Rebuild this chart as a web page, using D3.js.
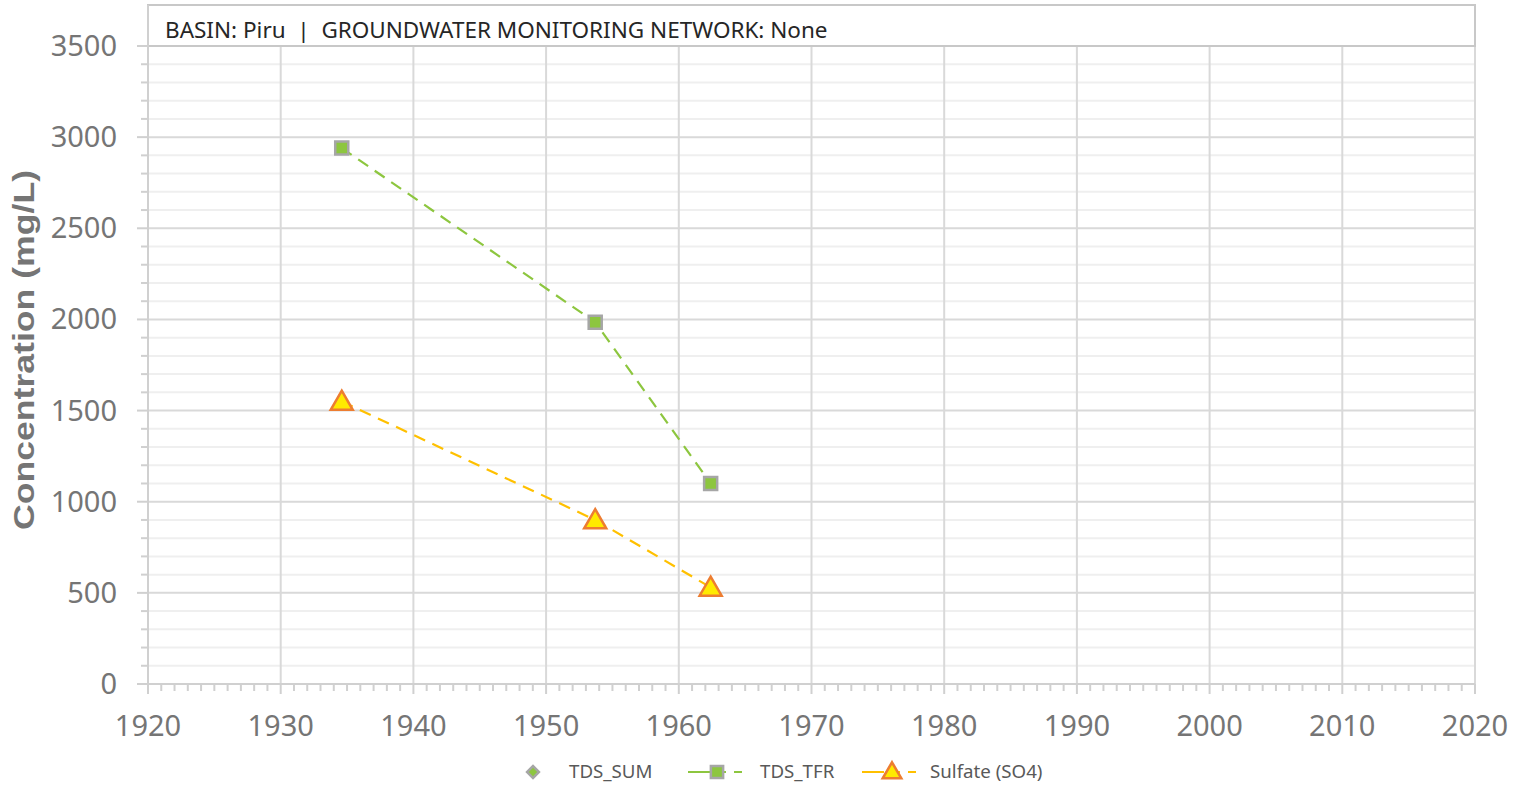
<!DOCTYPE html>
<html lang="en">
<head>
    <meta charset="UTF-8">
    <title>Piru</title>
    <script src="https://d3js.org/d3.v7.min.js"></script>
    <style>
        body { margin: 0; background: #fff; }
        .tick_label { font-family: "Noto Sans", sans-serif; font-size: 29px; fill: #757575; }
        .legend_text { font-family: "Noto Sans", sans-serif; font-size: 18.7px; fill: #595959; }
    </style>
</head>
<body>
    <svg width="1527" height="789"></svg>
    <script>
        // sample dates (decimal years) and values
        const tfrYears = [1934.6, 1953.7, 1962.4];
        const tfrValues = [2940, 1985, 1100];
        const so4Years = [1934.6, 1953.7, 1962.4];
        const so4Values = [1550, 900, 530];
        const yTicks = [0, 500, 1000, 1500, 2000, 2500, 3000, 3500];
        const xTicks = [1920, 1930, 1940, 1950, 1960, 1970, 1980, 1990, 2000, 2010, 2020];
        const legendNames = ["TDS_SUM", "TDS_TFR", "Sulfate (SO4)"];
        const headerText = "BASIN: Piru  |  GROUNDWATER MONITORING NETWORK: None";

        const svg = d3.select("svg");
        const pLeft = 148, pRight = 1475, pTop = 46, pBottom = 684;

        const x = d3.scaleLinear().domain([1920, 2020]).range([pLeft, pRight]);
        const y = d3.scaleLinear().domain([0, 3500]).range([pBottom, pTop]);

        // minor grid every 100
        svg.append("g").selectAll("line")
            .data(d3.range(100, 3500, 100).filter(d => d % 500 !== 0))
            .join("line")
            .attr("x1", pLeft).attr("x2", pRight)
            .attr("y1", d => y(d)).attr("y2", d => y(d))
            .attr("stroke", "#efefef").attr("stroke-width", 2);

        // major grid
        svg.append("g").selectAll("line")
            .data(yTicks.slice(1))
            .join("line")
            .attr("x1", pLeft).attr("x2", pRight)
            .attr("y1", d => y(d)).attr("y2", d => y(d))
            .attr("stroke", "#d9d9d9").attr("stroke-width", 2);

        svg.append("g").selectAll("line")
            .data(xTicks.slice(1))
            .join("line")
            .attr("x1", d => x(d)).attr("x2", d => x(d))
            .attr("y1", pTop).attr("y2", pBottom)
            .attr("stroke", "#d9d9d9").attr("stroke-width", 2);

        // header box
        svg.append("rect")
            .attr("x", pLeft).attr("y", 5)
            .attr("width", pRight - pLeft).attr("height", pTop - 5)
            .attr("fill", "#fff").attr("stroke", "#c8c8c8").attr("stroke-width", 2);
        svg.append("text")
            .attr("x", 165).attr("y", 38)
            .attr("font-family", "Noto Sans, sans-serif")
            .attr("font-size", 22.5)
            .attr("fill", "#262626")
            .attr("xml:space", "preserve")
            .text(headerText);

        // y axis
        const yMinor = d3.range(0, 3501, 100);
        svg.append("g").selectAll("line")
            .data(yMinor)
            .join("line")
            .attr("x1", d => d % 500 === 0 ? 137 : 141).attr("x2", pLeft)
            .attr("y1", d => y(d)).attr("y2", d => y(d))
            .attr("stroke", "#d0d0d0").attr("stroke-width", 2);
        svg.append("line")
            .attr("x1", pLeft).attr("x2", pLeft).attr("y1", 5).attr("y2", pBottom + 10)
            .attr("stroke", "#d0d0d0").attr("stroke-width", 2);
        svg.append("g").selectAll("text")
            .data(yTicks)
            .join("text")
            .attr("class", "tick_label")
            .attr("x", 117).attr("y", d => y(d) + 10)
            .attr("text-anchor", "end")
            .text(d => d);

        // x axis
        svg.append("line")
            .attr("x1", pLeft).attr("x2", pRight).attr("y1", pBottom).attr("y2", pBottom)
            .attr("stroke", "#d0d0d0").attr("stroke-width", 2);
        svg.append("g").selectAll("line")
            .data(d3.range(1920, 2021, 1))
            .join("line")
            .attr("x1", d => x(d)).attr("x2", d => x(d))
            .attr("y1", pBottom).attr("y2", d => d % 10 === 0 ? pBottom + 10 : pBottom + 7)
            .attr("stroke", "#d0d0d0").attr("stroke-width", 2);
        svg.append("g").selectAll("text")
            .data(xTicks)
            .join("text")
            .attr("class", "tick_label")
            .attr("x", d => x(d)).attr("y", 736)
            .attr("text-anchor", "middle")
            .text(d => d);

        svg.append("text")
            .attr("transform", "translate(34,350) rotate(-90)")
            .attr("text-anchor", "middle")
            .attr("font-family", "'Liberation Sans', Arial, sans-serif")
            .attr("font-weight", "bold")
            .attr("font-size", 30)
            .attr("fill", "#757575")
            .attr("textLength", 360)
            .attr("lengthAdjust", "spacingAndGlyphs")
            .text("Concentration (mg/L)");

        // series
        const line = d3.line().x(d => x(d[0])).y(d => y(d[1]));
        const tfr = d3.zip(tfrYears, tfrValues);
        const so4 = d3.zip(so4Years, so4Values);

        svg.append("path").datum(tfr)
            .attr("d", line).attr("fill", "none")
            .attr("stroke", "#8dc63f").attr("stroke-width", 2.2)
            .attr("stroke-dasharray", "12,8");
        svg.append("path").datum(so4)
            .attr("d", line).attr("fill", "none")
            .attr("stroke", "#ffc000").attr("stroke-width", 2.2)
            .attr("stroke-dasharray", "12,8");

        const sq = d3.symbol().type(d3.symbolSquare).size(170);
        const tri = d3.symbol().type(d3.symbolTriangle).size(210);

        svg.append("g").selectAll("path")
            .data(tfr)
            .join("path")
            .attr("transform", d => `translate(${x(d[0])},${y(d[1])})`)
            .attr("d", sq)
            .attr("fill", "#8dc63f").attr("stroke", "#a6a6a6").attr("stroke-width", 2.5);

        svg.append("g").selectAll("path")
            .data(so4)
            .join("path")
            .attr("transform", d => `translate(${x(d[0])},${y(d[1]) + 2})`)
            .attr("d", tri)
            .attr("fill", "#ffea00").attr("stroke", "#ed7d31").attr("stroke-width", 2.5);

        // legend
        const ly = 772;
        const lg = svg.append("g");
        lg.append("path")
            .attr("transform", `translate(533,${ly}) rotate(45)`)
            .attr("d", d3.symbol().type(d3.symbolSquare).size(70))
            .attr("fill", "#8dc63f").attr("stroke", "#a6a6a6").attr("stroke-width", 2.5);
        lg.append("text").attr("class", "legend_text")
            .attr("x", 569).attr("y", ly + 6).text(legendNames[0]);

        lg.append("line")
            .attr("x1", 688).attr("x2", 748).attr("y1", ly).attr("y2", ly)
            .attr("stroke", "#8dc63f").attr("stroke-width", 2.2)
            .attr("stroke-dasharray", "22,8,8,8,8");
        lg.append("path")
            .attr("transform", `translate(717,${ly})`)
            .attr("d", d3.symbol().type(d3.symbolSquare).size(150))
            .attr("fill", "#8dc63f").attr("stroke", "#a6a6a6").attr("stroke-width", 2.5);
        lg.append("text").attr("class", "legend_text")
            .attr("x", 760).attr("y", ly + 6).text(legendNames[1]);

        lg.append("line")
            .attr("x1", 862).attr("x2", 922).attr("y1", ly).attr("y2", ly)
            .attr("stroke", "#ffc000").attr("stroke-width", 2.2)
            .attr("stroke-dasharray", "22,8,8,8,8");
        lg.append("path")
            .attr("transform", `translate(892,${ly + 1})`)
            .attr("d", d3.symbol().type(d3.symbolTriangle).size(150))
            .attr("fill", "#ffea00").attr("stroke", "#ed7d31").attr("stroke-width", 2.5);
        lg.append("text").attr("class", "legend_text")
            .attr("x", 930).attr("y", ly + 6).text(legendNames[2]);
    </script>
</body>
</html>
